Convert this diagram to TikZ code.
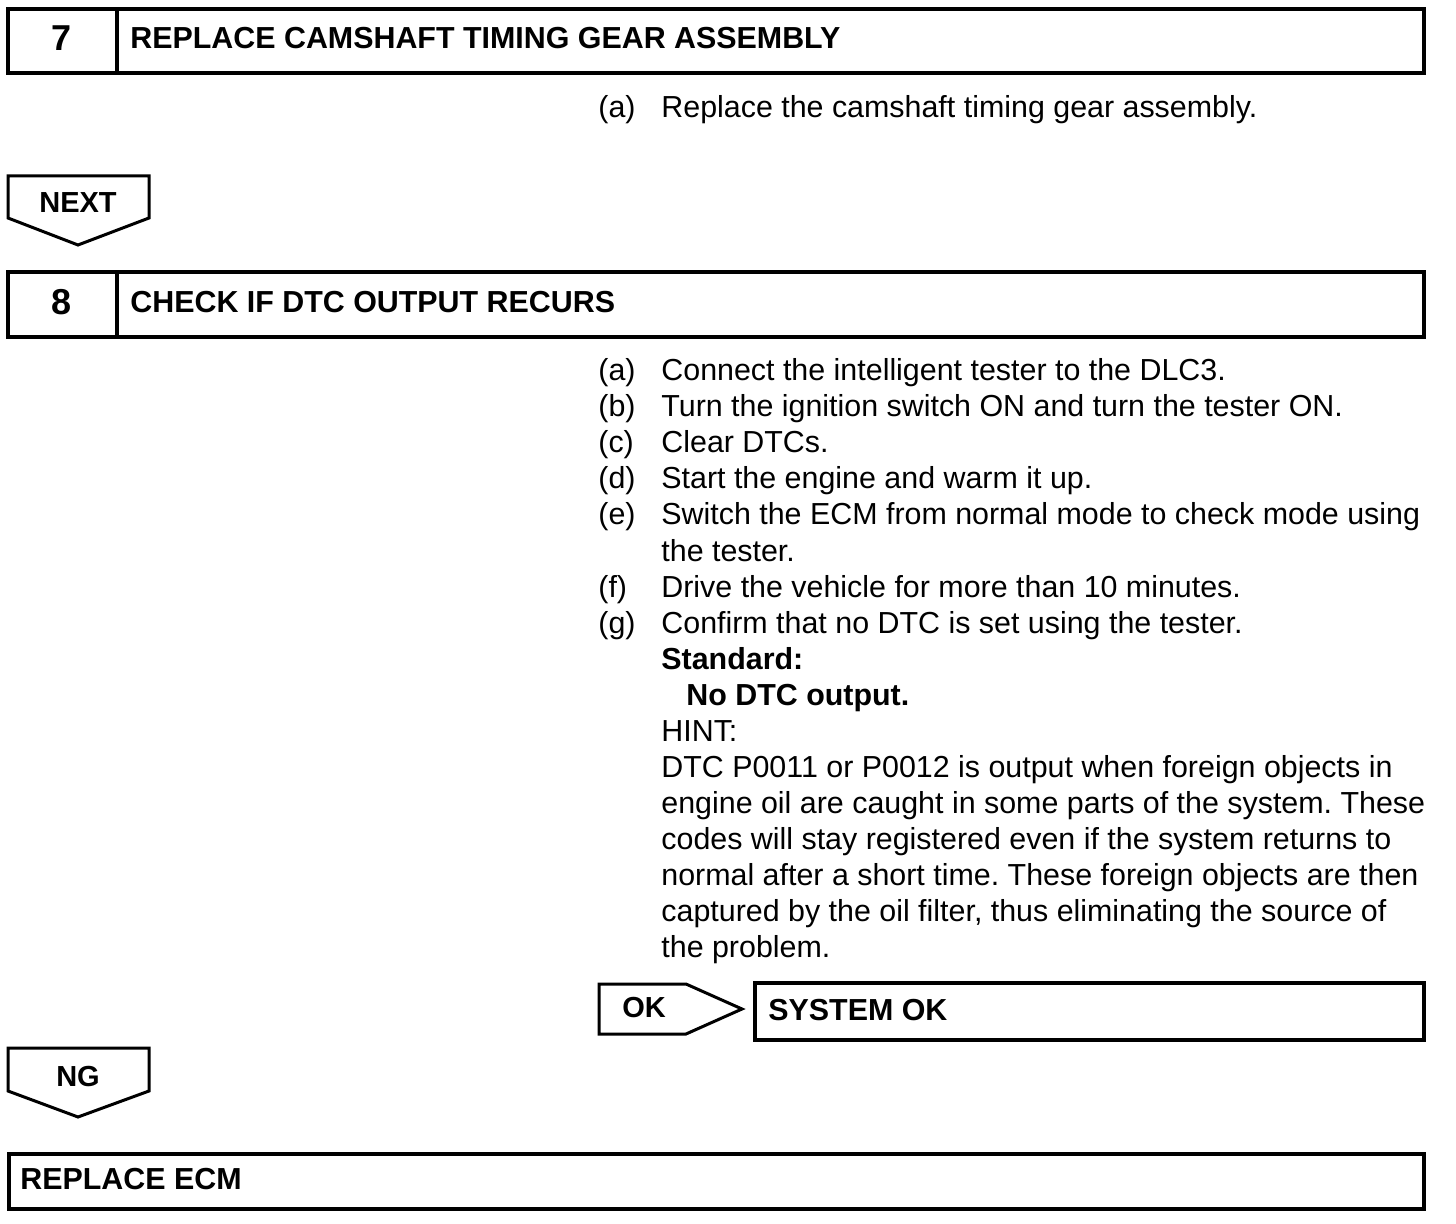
\documentclass[tikz,border=0pt]{standalone}
\usepackage{fontspec}
\setmainfont{Liberation Sans}
\usepackage{tikz}
\usetikzlibrary{positioning}
\frenchspacing
\tikzset{
  rm sheet/.style={x=0.5pt, y=-0.5pt, line join=miter},
  rm frame/.style={draw=black, line width=2pt},
  rm tag/.style={draw=black, line width=1.5pt},
  rm title/.style={font=\fontsize{15.2}{18}\selectfont\bfseries, anchor=base west, inner sep=0pt},
  rm number/.style={font=\fontsize{18}{20}\selectfont\bfseries, anchor=base, inner sep=0pt},
  rm tagtext/.style={font=\fontsize{14.5}{18}\selectfont\bfseries, anchor=base, inner sep=0pt},
  rm text/.style={font=\fontsize{15.2}{18}\selectfont, anchor=base west, inner sep=0pt},
  rm bold/.style={rm text, font=\fontsize{15.2}{18}\selectfont\bfseries}
}
\begin{document}
\begin{tikzpicture}[rm sheet]
\useasboundingbox (0,0) rectangle (1456,1224);
\draw[rm frame] (8,9) rectangle (1424,73);
\draw[rm frame] (117,9) -- (117,73);
\node[rm number] (num7) at (62,51) {7};
\node[rm title] (title7) at (130,49) {REPLACE CAMSHAFT TIMING GEAR ASSEMBLY};
\node[rm text] (lbl7a) at (598,118) {(a)};
\node[rm text] (txt7a) at (661,118) {Replace the camshaft timing gear assembly.};
\draw[rm tag] (8,176) -- (149,176) -- (149,218) -- (78,245) -- (8,218) -- cycle;
\node[rm tagtext] (next) at (78,213) {NEXT};
\draw[rm frame] (8,272) rectangle (1424,337);
\draw[rm frame] (117,272) -- (117,337);
\node[rm number] (num8) at (62,315) {8};
\node[rm title] (title8) at (130,313) {CHECK IF DTC OUTPUT RECURS};
\foreach \k/\lbl in {0/a,1/b,2/c,3/d,4/e,6/f,7/g}
  \node[rm text] (lbl8\lbl) at (598,{381+36*\k}) {(\lbl)};
\foreach \k/\txt in {0/{Connect the intelligent tester to the DLC3.},
  1/{Turn the ignition switch ON and turn the tester ON.},
  2/{Clear DTCs.},
  3/{Start the engine and warm it up.},
  4/{Switch the ECM from normal mode to check mode using},
  5/{the tester.},
  6/{Drive the vehicle for more than 10 minutes.},
  7/{Confirm that no DTC is set using the tester.},
  10/{HINT:},
  11/{DTC P0011 or P0012 is output when foreign objects in},
  12/{engine oil are caught in some parts of the system. These},
  13/{codes will stay registered even if the system returns to},
  14/{normal after a short time. These foreign objects are then},
  15/{captured by the oil filter, thus eliminating the source of},
  16/{the problem.}}
  \node[rm text] (line\k) at (661,{381+36*\k}) {\txt};
\node[rm bold] (std) at (661,669) {Standard:};
\node[rm bold] (stdval) at (686,705) {No DTC output.};
\draw[rm tag] (599,984) -- (686,984) -- (742,1009) -- (686,1034) -- (599,1034) -- cycle;
\node[rm tagtext] (ok) at (644,1017) {OK};
\draw[rm frame] (755,983) rectangle (1424,1040);
\node[rm title] (sysok) at (768,1020) {SYSTEM OK};
\draw[rm tag] (8,1048) -- (149,1048) -- (149,1091) -- (78,1117) -- (8,1091) -- cycle;
\node[rm tagtext] (ng) at (78,1086) {NG};
\draw[rm frame] (9,1154) rectangle (1424,1209);
\node[rm title] (ecm) at (20,1189) {REPLACE ECM};
\end{tikzpicture}
\end{document}
